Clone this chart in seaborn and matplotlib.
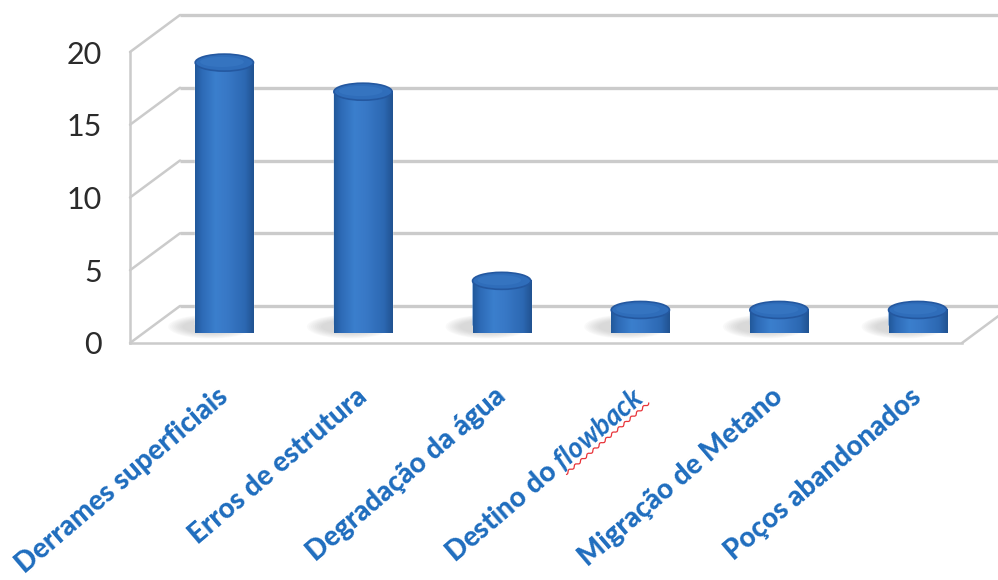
import numpy as np
import pandas as pd
import seaborn as sns
import matplotlib
matplotlib.use("Agg")
import matplotlib.pyplot as plt
from matplotlib.patches import Ellipse, Polygon
from matplotlib.lines import Line2D
from matplotlib.transforms import ScaledTranslation
from matplotlib.colors import LinearSegmentedColormap

# ---------------- data ----------------
categories = ["Derrames superficiais", "Erros de estrutura", "Degradação da água",
              "Destino do $\\mathit{flowback}$", "Migração de Metano", "Poços abandonados"]
values = [18, 16, 3, 1, 1, 1]
y_ticks = [0, 5, 10, 15, 20]

# ---------------- style ----------------
sns.set_theme(style="white")
plt.rcParams['font.family'] = ['Lato', 'DejaVu Sans']
plt.rcParams['mathtext.fontset'] = 'custom'
plt.rcParams['mathtext.it'] = 'Lato:italic:bold'
plt.rcParams['mathtext.rm'] = 'Lato:bold'

W, H, DPI = 998, 580, 100
fig = plt.figure(figsize=(W / DPI, H / DPI), dpi=DPI)
fig.patch.set_facecolor("white")

# front frame (pixels)
FL, FR, FY0, FYT = 130, 962, 343, 52
DEPTH_X, DEPTH_Y = 50, 37          # depth of the 3-D box in pixels
GRID = "#CBCBCB"
LABEL_BLUE = "#1F6DBE"
ROT = 40.5

ax_w = (FR - FL) / W
ax_h = (FY0 - FYT) / H
ax = fig.add_axes([FL / W, (H - FY0) / H, ax_w, ax_h])
ax.set_facecolor("none")
ax.set_xlim(-0.5, 5.5)
ax.set_ylim(0, 20)

# bars live half-way into the depth
ax_bar = fig.add_axes([(FL + DEPTH_X / 2) / W, (H - FY0 + DEPTH_Y / 2) / H, ax_w, ax_h])
ax_bar.set_facecolor("none")

# ---------- 3-D box: back wall, side wall, floor ----------
back = ax.transData + ScaledTranslation(DEPTH_X / DPI, DEPTH_Y / DPI, fig.dpi_scale_trans)
px_per_x = (FR - FL) / 6.0
px_per_y = (FY0 - FYT) / 20.0
ddx = DEPTH_X / px_per_x
ddy = DEPTH_Y / px_per_y
for lv in y_ticks:
    ax.plot([-0.5, 5.5], [lv, lv], transform=back, color=GRID, lw=2.4,
            clip_on=False, zorder=0, solid_capstyle="butt")
    ax.plot([-0.5, -0.5 + ddx], [lv, lv + ddy], color=GRID, lw=1.8,
            clip_on=False, zorder=0)
ax.plot([5.5, 5.5 + ddx], [0, ddy], color=GRID, lw=1.8, clip_on=False, zorder=0)

# spines / ticks
for s in ["top", "right"]:
    ax.spines[s].set_visible(False)
for s in ["left", "bottom"]:
    ax.spines[s].set_color(GRID)
    ax.spines[s].set_linewidth(1.8)
ax.set_yticks(y_ticks)
ax.set_yticklabels([str(v) for v in y_ticks])
ax.set_xticks(np.arange(-0.5, 6.0, 1.0))
ax.set_xticklabels([])
ax.tick_params(axis="y", direction="out", length=6, width=1.5, color=GRID,
               pad=14, labelsize=22, labelcolor="#2B2B2B")
ax.tick_params(axis="x", direction="out", length=7, width=1.5, color=GRID)
ax.grid(False)

# ---------- bars ----------
df = pd.DataFrame({"cat": categories, "val": values})
BAR_W = 0.42
sns.barplot(data=df, x="cat", y="val", ax=ax_bar, width=BAR_W, color="#2E72C4",
            saturation=1, zorder=3)
ax_bar.set_xlim(-0.5, 5.5)
ax_bar.set_ylim(0, 20)
ax_bar.axis("off")

eh = 17 / px_per_y  # ellipse height in data units
cmap = LinearSegmentedColormap.from_list(
    "cyl", [(0.0, "#21589A"), (0.12, "#2D6AB6"), (0.35, "#3B7FCD"),
            (0.55, "#3878C6"), (0.85, "#2C68B2"), (1.0, "#215290")])
grad = np.linspace(0, 1, 256).reshape(1, -1)

for p in list(ax_bar.patches):
    x0, w, h = p.get_x(), p.get_width(), p.get_height()
    cx = x0 + w / 2
    # soft shadow on the floor (mostly to the left / front)
    for k in range(8):
        f = 1 - k / 8
        ax_bar.add_patch(Ellipse((cx - 0.10, -0.15), w * (0.9 + 0.55 * f), eh * (0.7 + 0.7 * f),
                                 facecolor="#8A8A8A", edgecolor="none", alpha=0.045,
                                 zorder=1, clip_on=False))
    # body with rounded bottom
    t = np.linspace(np.pi, 2 * np.pi, 60)
    pts = [(x0, h)] + [(cx + w / 2 * np.cos(a), eh / 2 * np.sin(a)) for a in t] + [(x0 + w, h)]
    body = Polygon(pts, closed=True, facecolor="#2E72C4", edgecolor="none", zorder=3,
                   clip_on=False)
    ax_bar.add_patch(body)
    im = ax_bar.imshow(grad, cmap=cmap, extent=[x0, x0 + w, -eh / 2, h], aspect="auto",
                       zorder=4, clip_on=False)
    im.set_clip_path(body)
    # top cap
    ax_bar.add_patch(Ellipse((cx, h), w, eh, facecolor="#2F6DBA", edgecolor="#2458A0",
                             lw=1.2, zorder=5, clip_on=False))
    ax_bar.add_patch(Ellipse((cx - w * 0.04, h + eh * 0.04), w * 0.75, eh * 0.6,
                             facecolor="#3A7AC6", edgecolor="none", alpha=0.55, zorder=6,
                             clip_on=False))
ax_bar.set_xlim(-0.5, 5.5)
ax_bar.set_ylim(0, 20)

# ---------- category labels ----------
lab_off = ax.transData + ScaledTranslation(25 / DPI, -50 / DPI, fig.dpi_scale_trans)
label_kw = dict(fontsize=20, fontweight="black", color=LABEL_BLUE)
for i, c in enumerate(categories):
    ax.text(i, 0, c, transform=lab_off, rotation=ROT, rotation_mode="anchor",
            ha="right", va="center", clip_on=False, **label_kw)

# red spell-check squiggle under the italic word (as in the source screenshot)
fig.canvas.draw()
renderer = fig.canvas.get_renderer()
idx = [i for i, c in enumerate(categories) if "mathit" in c][0]
word = categories[idx][categories[idx].index("$"):]
tmp_full = fig.text(0, 0, categories[idx], **label_kw)
tmp_word = fig.text(0, 0, word, **label_kw)
bb_full = tmp_full.get_window_extent(renderer)
bb_word = tmp_word.get_window_extent(renderer)
tmp_full.remove()
tmp_word.remove()
ax_x, ax_y = lab_off.transform((idx, 0))
th = np.deg2rad(ROT)
xs = np.linspace(-bb_word.width, 0, 80)
ys = -bb_full.height / 2 + 1.0 + 1.3 * np.sin(xs / 1.3)
dx = ax_x + xs * np.cos(th) - ys * np.sin(th)
dy = ax_y + xs * np.sin(th) + ys * np.cos(th)
fig.add_artist(Line2D(dx, dy, transform=None, color="#E8343A", lw=0.9))

fig.savefig("out.png", dpi=DPI, facecolor="white")
